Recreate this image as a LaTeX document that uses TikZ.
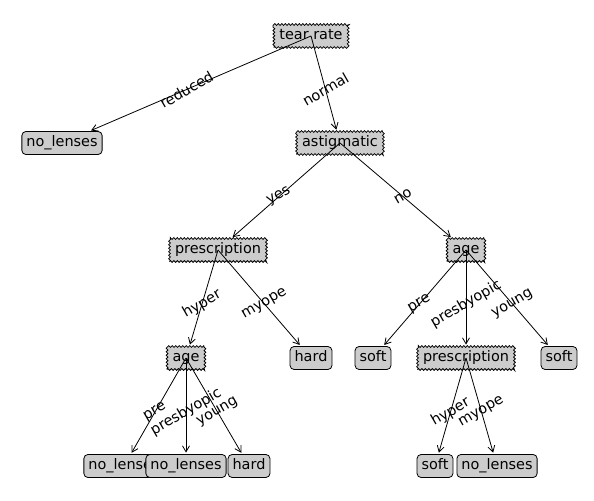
\documentclass[tikz,border=0pt]{standalone}
\usepackage{fontspec}
\setmainfont{DejaVu Sans}
\usetikzlibrary{decorations.pathmorphing,arrows.meta,calc}
\tikzset{
 base/.style={font=\fontsize{14.5}{17}\selectfont, text height=11bp, text depth=3.5bp, inner ysep=4.25bp, fill=black!20, draw=black, line width=0.8bp},
 leaf/.style={base, rounded corners=4bp, inner xsep=4.5bp},
 decision/.style={base, inner xsep=5.5bp, decorate, decoration={zigzag, segment length=3.5bp, amplitude=0.9bp}},
 edge/.style={-{Straight Barb[length=6bp,width=7bp]}, line width=0.8bp, shorten >=1.5bp},
 lbl/.style={font=\fontsize{14.5}{17}\selectfont, rotate=30, inner sep=0pt},
}
\begin{document}
\begin{tikzpicture}[x=1bp,y=-1bp]
\useasboundingbox (0,0) rectangle (594,501);
% nodes
\node[decision] (tr) at (311,36) {tear rate};
\node[leaf] (nl1) at (62,143) {no\_lenses};
\node[decision] (ast) at (340,143) {astigmatic};
\node[decision] (pr1) at (218,250) {prescription};
\node[decision] (age1) at (186,358) {age};
\node[leaf] (nl2) at (124,466) {no\_lenses};
\node[leaf] (nl3) at (186,466) {no\_lenses};
\node[leaf] (h1) at (249,466) {hard};
\node[leaf] (h2) at (311,358) {hard};
\node[decision] (age2) at (466,250) {age};
\node[leaf] (s1) at (373,358) {soft};
\node[decision] (pr2) at (466,358) {prescription};
\node[leaf] (s2) at (435,466) {soft};
\node[leaf] (nl4) at (497,466) {no\_lenses};
\node[leaf] (s3) at (559,358) {soft};
% edges
\draw[edge] (tr.center) -- (nl1);
\draw[edge] (tr.center) -- (ast);
\draw[edge] (ast.center) -- (pr1);
\draw[edge] (ast.center) -- (age2);
\draw[edge] (pr1.center) -- (age1);
\draw[edge] (pr1.center) -- (h2);
\draw[edge] (age1.center) -- (nl2);
\draw[edge] (age1.center) -- (nl3);
\draw[edge] (age1.center) -- (h1);
\draw[edge] (age2.center) -- (s1);
\draw[edge] (age2.center) -- (pr2);
\draw[edge] (age2.center) -- (s3);
\draw[edge] (pr2.center) -- (s2);
\draw[edge] (pr2.center) -- (nl4);
% labels
\path ($(tr.center)!0.5!(nl1.center)$) node[lbl] (l1) {reduced};
\path ($(tr.center)!0.5!(ast.center)$) node[lbl] (l2) {normal};
\path ($(ast.center)!0.5!(pr1.center)$) node[lbl] (l3) {yes};
\path ($(ast.center)!0.5!(age2.center)$) node[lbl] (l4) {no};
\path ($(pr1.center)!0.5!(age1.center)$) node[lbl] (l5) {hyper};
\path ($(pr1.center)!0.5!(h2.center)$) node[lbl] (l6) {myope};
\path ($(age1.center)!0.5!(nl2.center)$) node[lbl] (l7) {pre};
\path ($(age1.center)!0.5!(nl3.center)$) node[lbl] (l8) {presbyopic};
\path ($(age1.center)!0.5!(h1.center)$) node[lbl] (l9) {young};
\path ($(age2.center)!0.5!(s1.center)$) node[lbl] (l10) {pre};
\path ($(age2.center)!0.5!(pr2.center)$) node[lbl] (l11) {presbyopic};
\path ($(age2.center)!0.5!(s3.center)$) node[lbl] (l12) {young};
\path ($(pr2.center)!0.5!(s2.center)$) node[lbl] (l13) {hyper};
\path ($(pr2.center)!0.5!(nl4.center)$) node[lbl] (l14) {myope};
\end{tikzpicture}
\end{document}
